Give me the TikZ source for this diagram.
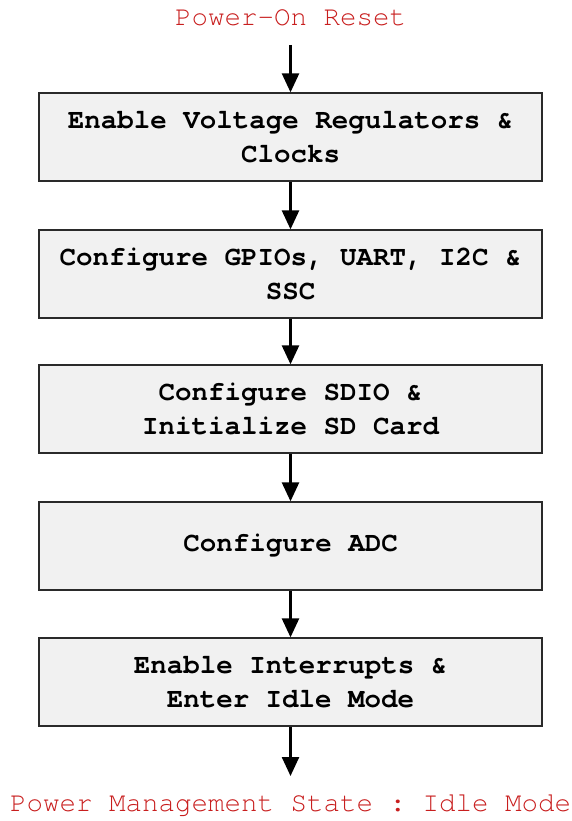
\documentclass[tikz,border=0pt]{standalone}
\usepackage{fontspec}
\setmonofont{texgyrecursor}[Extension=.otf, UprightFont=*-regular, BoldFont=*-bold, Ligatures={NoCommon}]
\usetikzlibrary{arrows.meta}
\definecolor{boxfill}{HTML}{F1F1F1}
\definecolor{boxline}{HTML}{2A2A2A}
\definecolor{redtext}{HTML}{C81E1E}
\tikzset{
  stepbox/.style={draw=boxline, line width=1.3pt, fill=boxfill, minimum width=503pt, minimum height=88pt, inner sep=0pt, align=center, font=\fontsize{27.5}{34}\selectfont\ttfamily\bfseries, text=black},
  endlabel/.style={font=\fontsize{27.5}{34}\selectfont\ttfamily, text=redtext, inner sep=0pt},
  flow/.style={line width=2.5pt, -{Triangle[length=19pt,width=17pt]}, black}
}
\begin{document}
\begin{tikzpicture}[x=1pt,y=-1pt]
\useasboundingbox (0,0) rectangle (571,821);
\node[endlabel] (start) at (290.5,18) {Power-On Reset};
\coordinate (startarr) at (290.5,45);
\node[stepbox] (b1) at (290.5,137) {Enable Voltage Regulators \&\\Clocks};
\node[stepbox] (b2) at (290.5,274) {Configure GPIOs, UART, I2C \&\\SSC};
\node[stepbox] (b3) at (290.5,409) {Configure SDIO \&\\Initialize SD Card};
\node[stepbox] (b4) at (290.5,546) {Configure ADC};
\node[stepbox] (b5) at (290.5,682) {Enable Interrupts \&\\Enter Idle Mode};
\coordinate (endarr) at (290.5,776);
\node[endlabel] (end) at (290.5,806) {Power Management State : Idle Mode};
\draw[flow] (startarr) -- (b1.north);
\draw[flow] (b1) -- (b2);
\draw[flow] (b2) -- (b3);
\draw[flow] (b3) -- (b4);
\draw[flow] (b4) -- (b5);
\draw[flow] (b5.south) -- (endarr);
\end{tikzpicture}
\end{document}
